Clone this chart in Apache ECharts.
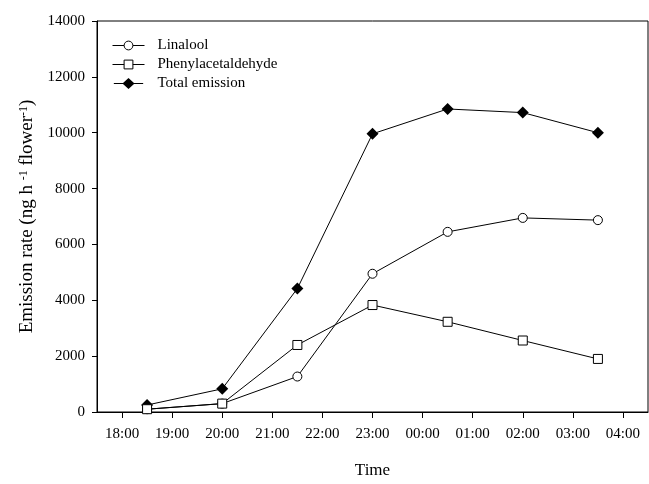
<!DOCTYPE html>
<html>
<head>
<meta charset="utf-8">
<script src="https://cdn.jsdelivr.net/npm/echarts@6/dist/echarts.min.js"></script>
<style>
  html, body { margin: 0; padding: 0; background: #fff; }
</style>
</head>
<body>
<!-- 图表容器 -->
<div id="emissionChart" style="width: 649px; height: 484px"></div>
<script>
// sampling times in hours (24 + h after midnight)
const times = [18.5, 20, 21.5, 23, 24.5, 26, 27.5]
const linalool = [100, 300, 1270, 4950, 6450, 6950, 6870]
const phenylacetaldehyde = [100, 300, 2400, 3830, 3230, 2560, 1900]
const totalEmission = [250, 830, 4420, 9960, 10850, 10720, 10000]
const hourTicks = [18, 19, 20, 21, 22, 23, 24, 25, 26, 27, 28]

const serif = 'Liberation Serif'

const toPairs = (vals) => times.map((t, i) => [t, vals[i]])

const fmtHour = (v) => {
  const h = Math.round(v) % 24
  return (h < 10 ? '0' : '') + h + ':00'
}

const chart = echarts.init(document.getElementById('emissionChart'), null, {
  width: 649,
  height: 484
})

const lineStyle = { color: '#000', width: 1 }

// legend icon for total emission: thin line + filled diamond (32 x 12)
const diamondIcon = 'path://M0,5.5L10,5.5L16,0L22,5.5L32,5.5L32,6.5L22,6.5L16,12L10,6.5L0,6.5Z'

const option = {
  animation: false,
  backgroundColor: '#fff',
  textStyle: { fontFamily: serif, color: '#000' },
  grid: {
    left: 97,
    right: 1,
    top: 21,
    bottom: 65,
    show: true,
    borderColor: '#000',
    borderWidth: 1
  },
  legend: {
    orient: 'vertical',
    left: 107,
    top: 33,
    itemWidth: 32,
    itemHeight: 11,
    itemGap: 4,
    lineStyle: { width: 1, color: '#000' },
    itemStyle: { borderWidth: 1 },
    textStyle: { fontFamily: serif, fontSize: 15, color: '#000', padding: [0, 0, 0, 8] },
    data: [
      { name: 'Linalool' },
      { name: 'Phenylacetaldehyde' },
      { name: 'Total emission', icon: diamondIcon, itemStyle: { color: '#000', borderWidth: 0 } }
    ]
  },
  xAxis: {
    type: 'value',
    min: 17.5,
    max: 28.5,
    name: 'Time',
    nameLocation: 'middle',
    nameGap: 50,
    nameTextStyle: { fontFamily: serif, fontSize: 17, color: '#000' },
    axisLine: { show: true, lineStyle: { color: '#000', width: 1 } },
    axisTick: {
      show: true,
      inside: false,
      length: 6,
      customValues: hourTicks,
      lineStyle: { color: '#000' }
    },
    axisLabel: {
      customValues: hourTicks,
      formatter: fmtHour,
      margin: 15,
      fontFamily: serif,
      fontSize: 15,
      color: '#000'
    },
    splitLine: { show: false }
  },
  yAxis: {
    type: 'value',
    min: 0,
    max: 14000,
    interval: 2000,
    name: 'Emission rate (ng h {sup|-1} flower{sup|-1})',
    nameLocation: 'middle',
    nameGap: 60,
    nameTextStyle: {
      fontFamily: serif,
      fontSize: 19,
      color: '#000',
      rich: {
        sup: { fontFamily: serif, fontSize: 12, verticalAlign: 'top', color: '#000' }
      }
    },
    axisLine: { show: true, lineStyle: { color: '#000', width: 1 } },
    axisTick: { show: true, inside: false, length: 5, lineStyle: { color: '#000' } },
    axisLabel: {
      margin: 12,
      fontFamily: serif,
      fontSize: 15,
      color: '#000',
      formatter: (v) => String(v)
    },
    splitLine: { show: false }
  },
  series: [
    {
      name: 'Linalool',
      type: 'line',
      data: toPairs(linalool),
      symbol: 'circle',
      symbolSize: 9,
      itemStyle: { color: '#fff', borderColor: '#000', borderWidth: 1 },
      lineStyle: lineStyle,
      z: 3
    },
    {
      name: 'Phenylacetaldehyde',
      type: 'line',
      data: toPairs(phenylacetaldehyde),
      symbol: 'rect',
      symbolSize: 9,
      itemStyle: { color: '#fff', borderColor: '#000', borderWidth: 1 },
      lineStyle: lineStyle,
      z: 4
    },
    {
      name: 'Total emission',
      type: 'line',
      data: toPairs(totalEmission),
      symbol: 'diamond',
      symbolSize: 12,
      itemStyle: { color: '#000', borderColor: '#000', borderWidth: 0 },
      lineStyle: lineStyle,
      z: 2
    }
  ]
}

chart.setOption(option)
</script>
</body>
</html>
